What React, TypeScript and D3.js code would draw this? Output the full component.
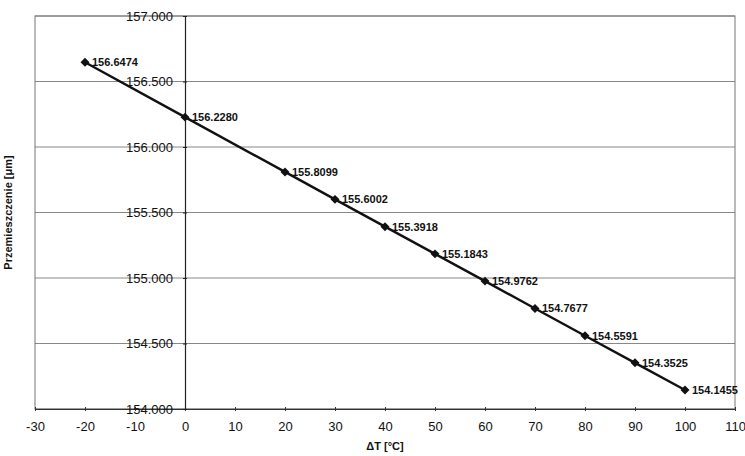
import React, { useEffect, useRef } from 'react';
import * as d3 from 'd3';

// Data
const deltaT = [-20, 0, 20, 30, 40, 50, 60, 70, 80, 90, 100];
const displacement = [
  156.6474, 156.228, 155.8099, 155.6002, 155.3918, 155.1843,
  154.9762, 154.7677, 154.5591, 154.3525, 154.1455,
];
const xTicks = [-30, -20, -10, 0, 10, 20, 30, 40, 50, 60, 70, 80, 90, 100, 110];
const yTicks = [154.0, 154.5, 155.0, 155.5, 156.0, 156.5, 157.0];

const App = () => {
  const svgRef = useRef<SVGSVGElement | null>(null);

  useEffect(() => {
    if (!svgRef.current) return;
    const svg = d3.select(svgRef.current);
    svg.selectAll('*').remove();

    const W = 745;
    const H = 456;
    const margin = { top: 16, right: 10, bottom: 47, left: 35 };
    const width = W - margin.left - margin.right;
    const height = H - margin.top - margin.bottom;
    const font = 'Arial, "Liberation Sans", sans-serif';

    const g = svg.append('g').attr('transform', `translate(${margin.left},${margin.top})`);

    const x = d3.scaleLinear().domain([-30, 110]).range([0, width]);
    const y = d3.scaleLinear().domain([154, 157]).range([height, 0]);

    // horizontal grid lines
    g.selectAll('.grid')
      .data(yTicks)
      .join('line')
      .attr('x1', 0)
      .attr('x2', width)
      .attr('y1', d => y(d))
      .attr('y2', d => y(d))
      .attr('stroke', '#888')
      .attr('stroke-width', 1);

    // plot border
    g.append('rect')
      .attr('width', width)
      .attr('height', height)
      .attr('fill', 'none')
      .attr('stroke', '#777')
      .attr('stroke-width', 1);

    // x axis at bottom
    const xAxis = g.append('g')
      .attr('transform', `translate(0,${height})`)
      .call(d3.axisBottom(x).tickValues(xTicks).tickSize(4).tickSizeOuter(0).tickFormat(d => String(d)));
    xAxis.select('.domain').attr('stroke', '#333');
    xAxis.selectAll('line').attr('stroke', '#333').attr('transform', 'translate(0,-2)');
    xAxis.selectAll('text')
      .attr('y', 13)
      .attr('font-family', font)
      .attr('font-size', 13)
      .attr('fill', '#111');

    // y axis crossing at x = 0
    const yAxis = g.append('g')
      .attr('transform', `translate(${x(0)},0)`)
      .call(d3.axisLeft(y).tickValues(yTicks).tickSize(4).tickSizeOuter(0).tickFormat(d => (d as number).toFixed(3)));
    yAxis.select('.domain').attr('stroke', '#222').attr('stroke-width', 1.2);
    yAxis.selectAll('line').attr('stroke', '#222').attr('transform', 'translate(2,0)');
    yAxis.selectAll('text')
      .attr('x', -12)
      .attr('font-family', font)
      .attr('font-size', 13)
      .attr('fill', '#111');

    // line
    const pts = deltaT.map((t, i) => [t, displacement[i]] as [number, number]);
    g.append('path')
      .datum(pts)
      .attr('fill', 'none')
      .attr('stroke', '#111')
      .attr('stroke-width', 2.4)
      .attr('d', d3.line<[number, number]>().x(d => x(d[0])).y(d => y(d[1])));

    // diamond markers (square rotated 45°)
    g.selectAll('.marker')
      .data(pts)
      .join('path')
      .attr('transform', d => `translate(${x(d[0])},${y(d[1])}) rotate(45)`)
      .attr('d', d3.symbol().type(d3.symbolSquare).size(40)())
      .attr('fill', '#111');

    // data labels
    g.selectAll('.label')
      .data(pts)
      .join('text')
      .attr('x', d => x(d[0]) + 7)
      .attr('y', d => y(d[1]))
      .attr('dy', '0.35em')
      .attr('font-family', font)
      .attr('font-size', 11)
      .attr('font-weight', 'bold')
      .attr('fill', '#111')
      .text(d => d[1].toFixed(4));

    // axis titles
    svg.append('text')
      .attr('x', margin.left + width / 2)
      .attr('y', 450)
      .attr('text-anchor', 'middle')
      .attr('font-family', font)
      .attr('font-size', 11)
      .attr('font-weight', 'bold')
      .attr('fill', '#111')
      .text('ΔT [°C]');

    svg.append('text')
      .attr('transform', `translate(12,${margin.top + height / 2}) rotate(-90)`)
      .attr('text-anchor', 'middle')
      .attr('font-family', font)
      .attr('font-size', 11)
      .attr('font-weight', 'bold')
      .attr('fill', '#111')
      .text('Przemieszczenie [μm]');
  }, []);

  return (
    <div style={{ position: 'absolute', left: 0, top: 0, width: 745, height: 456, background: '#fff' }}>
      <svg ref={svgRef} width={745} height={456} style={{ display: 'block' }} />
    </div>
  );
};

export default App;
